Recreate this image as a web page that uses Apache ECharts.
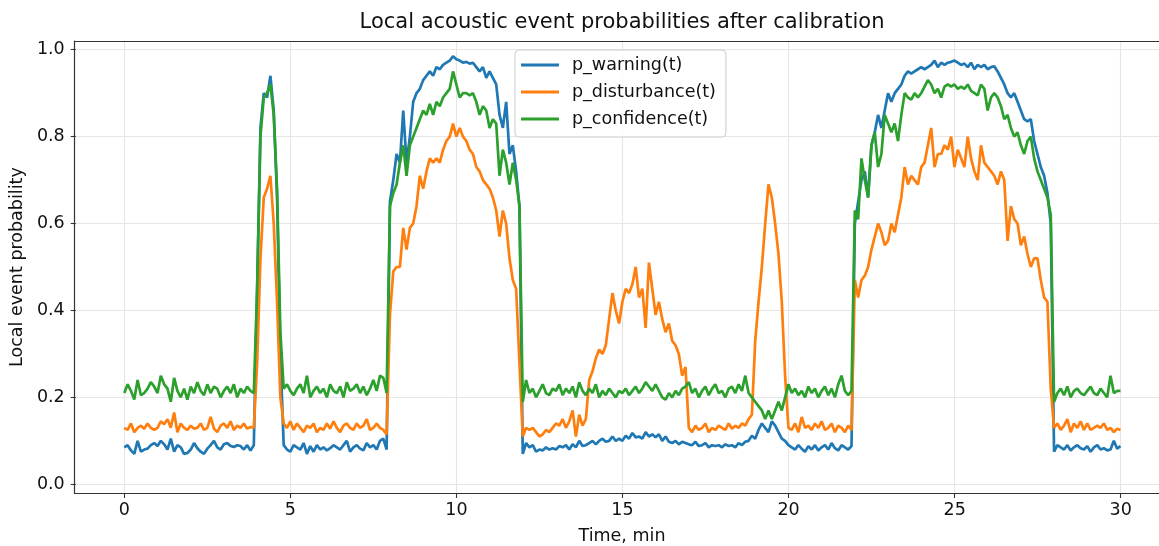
<!DOCTYPE html>
<html>
<head>
<meta charset="utf-8">
<script src="https://cdn.jsdelivr.net/npm/echarts@6/dist/echarts.min.js"></script>
<style>
  html, body { margin: 0; padding: 0; background: #fff; }
  #chart { width: 1159px; height: 546px; }
</style>
</head>
<body>
<div id="chart"></div>
<script>
// one sample every 0.1 min, 0..30 min
var pWarning = [
    0.085,0.09,0.078,0.07,0.1,0.075,0.08,0.082,0.09,0.095,
    0.088,0.1,0.092,0.08,0.105,0.075,0.09,0.085,0.07,0.072,
    0.08,0.095,0.083,0.075,0.07,0.082,0.09,0.1,0.085,0.08,
    0.092,0.095,0.088,0.086,0.09,0.088,0.08,0.09,0.078,0.09,
    0.45,0.82,0.9,0.89,0.94,0.86,0.66,0.3,0.09,0.08,
    0.075,0.09,0.085,0.08,0.095,0.07,0.088,0.075,0.09,0.08,
    0.085,0.078,0.083,0.09,0.085,0.08,0.09,0.1,0.075,0.085,
    0.09,0.082,0.078,0.095,0.085,0.09,0.08,0.1,0.105,0.08,
    0.65,0.7,0.76,0.74,0.86,0.74,0.8,0.88,0.9,0.91,
    0.93,0.94,0.95,0.94,0.96,0.955,0.965,0.97,0.975,0.985,
    0.978,0.975,0.97,0.972,0.968,0.97,0.96,0.95,0.96,0.935,
    0.95,0.935,0.92,0.85,0.82,0.88,0.76,0.78,0.72,0.64,
    0.07,0.095,0.085,0.09,0.075,0.08,0.078,0.085,0.08,0.083,
    0.08,0.088,0.085,0.09,0.08,0.092,0.085,0.1,0.088,0.09,
    0.095,0.1,0.092,0.1,0.105,0.098,0.1,0.11,0.1,0.105,
    0.1,0.112,0.105,0.118,0.108,0.11,0.105,0.12,0.11,0.115,
    0.108,0.115,0.1,0.11,0.098,0.095,0.1,0.092,0.098,0.095,
    0.092,0.09,0.098,0.088,0.09,0.095,0.085,0.09,0.088,0.09,
    0.085,0.092,0.088,0.09,0.085,0.095,0.09,0.098,0.1,0.112,
    0.105,0.125,0.14,0.13,0.12,0.145,0.135,0.12,0.105,0.1,
    0.09,0.085,0.08,0.09,0.082,0.075,0.088,0.08,0.09,0.078,
    0.085,0.09,0.08,0.095,0.083,0.078,0.09,0.085,0.08,0.088,
    0.6,0.65,0.7,0.72,0.66,0.78,0.81,0.85,0.82,0.86,
    0.9,0.88,0.9,0.91,0.92,0.94,0.95,0.945,0.95,0.955,
    0.96,0.955,0.96,0.965,0.975,0.96,0.97,0.965,0.97,0.972,
    0.975,0.97,0.965,0.968,0.96,0.97,0.955,0.965,0.96,0.965,
    0.955,0.96,0.962,0.95,0.935,0.92,0.9,0.89,0.9,0.88,
    0.86,0.84,0.835,0.84,0.79,0.76,0.73,0.71,0.67,0.6,
    0.075,0.09,0.085,0.08,0.09,0.078,0.085,0.09,0.083,0.08,
    0.088,0.075,0.085,0.09,0.08,0.083,0.078,0.08,0.1,0.082,
    0.088
];
var pDisturbance = [
    0.13,0.125,0.14,0.12,0.13,0.135,0.128,0.14,0.13,0.125,
    0.13,0.145,0.138,0.15,0.13,0.165,0.12,0.14,0.13,0.125,
    0.135,0.128,0.13,0.14,0.125,0.13,0.155,0.128,0.12,0.135,
    0.14,0.13,0.145,0.125,0.135,0.13,0.14,0.128,0.132,0.13,
    0.28,0.52,0.66,0.68,0.71,0.6,0.42,0.2,0.14,0.13,
    0.145,0.125,0.14,0.13,0.12,0.135,0.13,0.14,0.12,0.13,
    0.125,0.14,0.128,0.145,0.13,0.12,0.135,0.14,0.13,0.125,
    0.14,0.13,0.135,0.15,0.125,0.13,0.14,0.13,0.125,0.115,
    0.39,0.49,0.5,0.5,0.59,0.54,0.59,0.6,0.64,0.71,
    0.68,0.72,0.75,0.74,0.75,0.74,0.77,0.79,0.8,0.83,
    0.8,0.82,0.8,0.79,0.77,0.76,0.73,0.72,0.7,0.69,
    0.68,0.66,0.63,0.57,0.63,0.6,0.52,0.47,0.45,0.28,
    0.11,0.13,0.125,0.13,0.12,0.11,0.115,0.125,0.12,0.13,
    0.14,0.135,0.15,0.13,0.145,0.17,0.11,0.16,0.135,0.15,
    0.24,0.26,0.29,0.31,0.3,0.32,0.38,0.44,0.4,0.37,
    0.42,0.45,0.44,0.46,0.5,0.43,0.45,0.36,0.51,0.45,
    0.39,0.42,0.38,0.35,0.37,0.33,0.32,0.3,0.25,0.27,
    0.13,0.12,0.135,0.125,0.13,0.14,0.12,0.13,0.125,0.135,
    0.13,0.125,0.14,0.128,0.135,0.13,0.14,0.135,0.15,0.16,
    0.33,0.42,0.5,0.6,0.69,0.66,0.6,0.53,0.42,0.25,
    0.13,0.125,0.14,0.12,0.155,0.13,0.135,0.125,0.14,0.13,
    0.145,0.125,0.13,0.14,0.12,0.135,0.13,0.12,0.135,0.125,
    0.47,0.43,0.47,0.48,0.5,0.54,0.57,0.6,0.58,0.55,
    0.56,0.6,0.58,0.62,0.66,0.73,0.69,0.71,0.7,0.69,
    0.73,0.74,0.78,0.82,0.73,0.76,0.76,0.78,0.77,0.8,
    0.73,0.77,0.75,0.73,0.8,0.75,0.72,0.7,0.78,0.74,
    0.73,0.72,0.71,0.69,0.72,0.7,0.56,0.64,0.61,0.6,
    0.55,0.57,0.53,0.5,0.52,0.52,0.47,0.43,0.42,0.22,
    0.13,0.14,0.125,0.135,0.15,0.12,0.14,0.13,0.145,0.125,
    0.14,0.125,0.13,0.135,0.13,0.14,0.125,0.13,0.12,0.128,
    0.125
];
var pConfidence = [
    0.21,0.23,0.215,0.195,0.24,0.205,0.21,0.22,0.235,0.225,
    0.21,0.25,0.23,0.22,0.19,0.245,0.215,0.2,0.22,0.195,
    0.225,0.21,0.235,0.215,0.205,0.23,0.21,0.225,0.22,0.2,
    0.215,0.225,0.21,0.23,0.2,0.22,0.21,0.225,0.215,0.21,
    0.45,0.8,0.89,0.9,0.92,0.85,0.68,0.35,0.22,0.23,
    0.215,0.205,0.22,0.23,0.21,0.25,0.2,0.215,0.225,0.21,
    0.22,0.2,0.23,0.215,0.21,0.225,0.2,0.235,0.215,0.22,
    0.23,0.21,0.225,0.205,0.22,0.24,0.215,0.25,0.245,0.21,
    0.64,0.67,0.69,0.74,0.78,0.71,0.78,0.8,0.82,0.84,
    0.86,0.85,0.875,0.85,0.88,0.87,0.89,0.9,0.91,0.95,
    0.92,0.89,0.9,0.9,0.895,0.9,0.88,0.85,0.87,0.86,
    0.82,0.84,0.83,0.71,0.77,0.74,0.69,0.74,0.7,0.64,
    0.19,0.24,0.21,0.22,0.2,0.215,0.23,0.21,0.205,0.22,
    0.215,0.23,0.205,0.22,0.21,0.225,0.2,0.235,0.215,0.205,
    0.22,0.21,0.23,0.2,0.215,0.205,0.22,0.21,0.2,0.215,
    0.21,0.22,0.205,0.215,0.225,0.21,0.22,0.235,0.225,0.215,
    0.23,0.215,0.2,0.195,0.21,0.2,0.215,0.205,0.22,0.225,
    0.235,0.21,0.22,0.2,0.215,0.225,0.205,0.22,0.23,0.21,
    0.215,0.2,0.22,0.225,0.21,0.23,0.215,0.25,0.21,0.2,
    0.19,0.18,0.17,0.15,0.17,0.15,0.17,0.19,0.17,0.2,
    0.23,0.21,0.22,0.205,0.215,0.2,0.225,0.21,0.22,0.2,
    0.215,0.225,0.205,0.22,0.2,0.23,0.25,0.215,0.205,0.215,
    0.63,0.61,0.75,0.7,0.66,0.78,0.81,0.73,0.76,0.85,
    0.83,0.81,0.83,0.79,0.85,0.9,0.89,0.885,0.9,0.89,
    0.9,0.915,0.93,0.92,0.9,0.91,0.89,0.915,0.92,0.915,
    0.92,0.91,0.915,0.91,0.92,0.905,0.9,0.895,0.92,0.91,
    0.86,0.89,0.9,0.89,0.87,0.84,0.85,0.82,0.8,0.81,
    0.78,0.76,0.79,0.8,0.75,0.72,0.7,0.68,0.66,0.62,
    0.19,0.21,0.22,0.205,0.225,0.2,0.215,0.22,0.21,0.205,
    0.215,0.225,0.21,0.205,0.22,0.21,0.2,0.25,0.21,0.215,
    0.215
];
var seriesNames = ['p_warning(t)', 'p_disturbance(t)', 'p_confidence(t)'];
var colors = ['#1f77b4', '#ff7f0e', '#2ca02c'];
var timeStep = 0.1;

var $font = 'DejaVu Sans';

function pairs(values) {
    return values.map(function (v, i) { return [+(i * timeStep).toFixed(1), v]; });
}

var hidden = {
    axisLine: { show: false }, axisTick: { show: false },
    axisLabel: { show: false }, splitLine: { show: false }
};
var frameLine = { show: true, onZero: false, lineStyle: { color: '#333', width: 1.2 } };
var gridLine = { show: true, lineStyle: { color: '#e6e6e6', width: 1.2 } };
var tickStyle = { show: true, length: 5, lineStyle: { color: '#333', width: 1.1 } };
var labelStyle = { color: '#111', fontSize: 17.5, fontFamily: $font };

// frame: left edge -1.5 min, canvas cuts the plot at the right
var xMin = -1.5, xMax = 31.16;

var option = {
    backgroundColor: '#fff',
    animation: false,
    title: [{
        text: 'Local acoustic event probabilities after calibration',
        left: 617,
        top: 7,
        textAlign: 'center',
        textStyle: { fontWeight: 'normal', fontSize: 21, color: '#111', fontFamily: $font }
    }, {
        // x axis title, kept as a title so it can sit low enough
        text: 'Time, min',
        left: 617,
        top: 522,
        textAlign: 'center',
        textStyle: { fontWeight: 'normal', fontSize: 17.5, color: '#111', fontFamily: $font }
    }],
    legend: {
        orient: 'vertical',
        left: 515,
        top: 50,
        padding: [6, 10, 9, 6],
        itemGap: 9,
        itemWidth: 38,
        itemHeight: 3,
        icon: 'rect',
        backgroundColor: 'rgba(255,255,255,0.8)',
        borderColor: '#cccccc',
        borderWidth: 1,
        borderRadius: 4,
        textStyle: { color: '#111', fontSize: 17.5, lineHeight: 18, fontFamily: $font, padding: [0, 0, 0, 8] },
        data: seriesNames
    },
    grid: [
        // frame + data
        { left: 74.5, right: 0, top: 41, bottom: 53 },
        // x ticks 0..30
        { left: 124.3, right: 38.3, top: 41, bottom: 53 },
        // y ticks 0..1
        { left: 74.5, right: 0, top: 49.7, bottom: 61.5 }
    ],
    xAxis: [
        Object.assign({}, hidden, { type: 'value', gridIndex: 0, min: xMin, max: xMax, position: 'bottom', axisLine: frameLine }),
        {
            type: 'value', gridIndex: 1, min: 0, max: 30, interval: 5,
            axisLine: { show: false },
            axisTick: tickStyle,
            axisLabel: Object.assign({ margin: 8 }, labelStyle),
            splitLine: gridLine
        },
        Object.assign({ type: 'value', gridIndex: 2, min: 0, max: 1 }, hidden),
        Object.assign({}, hidden, { type: 'value', gridIndex: 0, min: xMin, max: xMax, position: 'top', axisLine: frameLine })
    ],
    yAxis: [
        Object.assign({}, hidden, { type: 'value', gridIndex: 0, min: -0.02, max: 1.02, position: 'left', axisLine: frameLine }),
        Object.assign({ type: 'value', gridIndex: 1, min: 0, max: 1 }, hidden),
        {
            type: 'value', gridIndex: 2, min: 0, max: 1, interval: 0.2,
            name: 'Local event probability', nameLocation: 'middle', nameGap: 48,
            nameTextStyle: labelStyle,
            axisLine: { show: false },
            axisTick: tickStyle,
            axisLabel: Object.assign({ margin: 11, formatter: function (v) { return v.toFixed(1); } }, labelStyle),
            splitLine: gridLine
        }
    ],
    series: [pWarning, pDisturbance, pConfidence].map(function (values, k) {
        return {
            name: seriesNames[k],
            type: 'line',
            xAxisIndex: 0,
            yAxisIndex: 0,
            showSymbol: false,
            color: colors[k],
            lineStyle: { width: 2.7, color: colors[k] },
            data: pairs(values)
        };
    })
};

var myChart = echarts.init(document.getElementById('chart'));
myChart.setOption(option);
</script>
</body>
</html>
